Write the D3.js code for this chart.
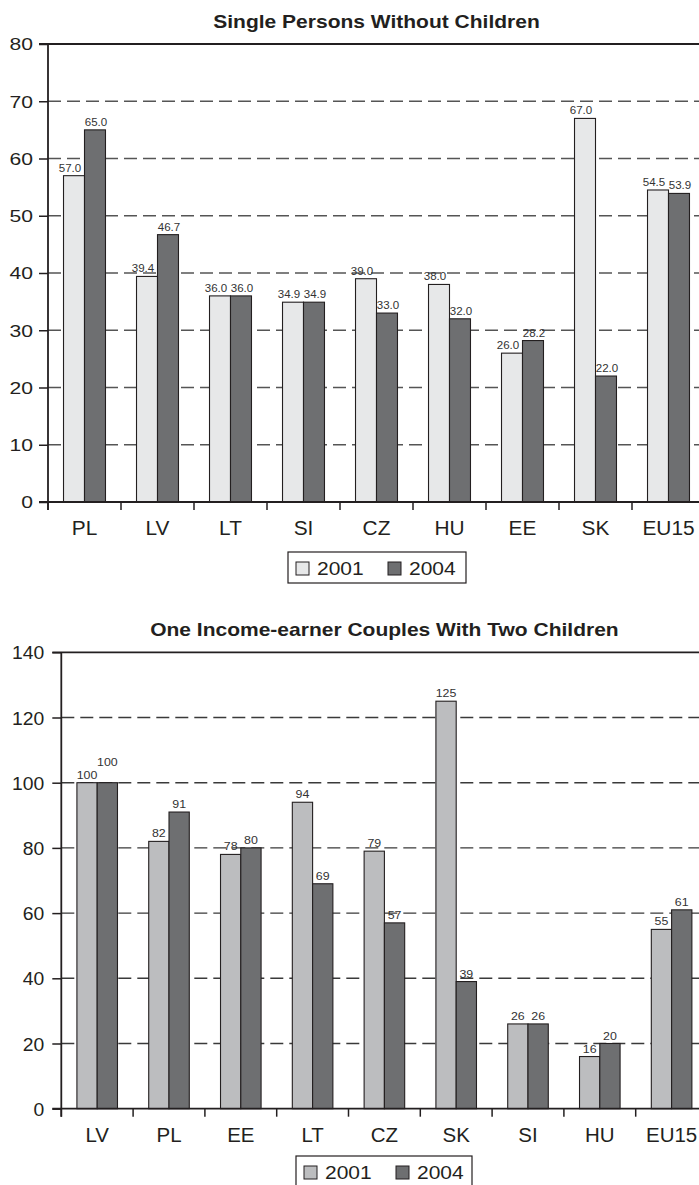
<!DOCTYPE html>
<html>
<head>
<meta charset="utf-8">
<script src="https://cdn.jsdelivr.net/npm/d3@7"></script>
<style>
  html, body { margin: 0; padding: 0; background: #fff; }
  svg { display: block; }
  text { font-family: "Liberation Sans", Arial, Helvetica, sans-serif; fill: #231f20; }
</style>
</head>
<body>
<svg id="chart" width="699" height="1185"></svg>
<script>
// ---- Data: chart 1 ----
const titleA = "Single Persons Without Children";
const categoriesA = ["PL", "LV", "LT", "SI", "CZ", "HU", "EE", "SK", "EU15"];
const valuesA2001 = [57.0, 39.4, 36.0, 34.9, 39.0, 38.0, 26.0, 67.0, 54.5];
const valuesA2004 = [65.0, 46.7, 36.0, 34.9, 33.0, 32.0, 28.2, 22.0, 53.9];
const ticksA = [0, 10, 20, 30, 40, 50, 60, 70, 80];

// ---- Data: chart 2 ----
const titleB = "One Income-earner Couples With Two Children";
const categoriesB = ["LV", "PL", "EE", "LT", "CZ", "SK", "SI", "HU", "EU15"];
const valuesB2001 = [100, 82, 78, 94, 79, 125, 26, 16, 55];
const valuesB2004 = [100, 91, 80, 69, 57, 39, 26, 20, 61];
const ticksB = [0, 20, 40, 60, 80, 100, 120, 140];

const seriesNames = ["2001", "2004"];

const svg = d3.select("#chart");

function stretched(g, x, y, str, size, sx, anchor, weight) {
  return g.append("text")
    .attr("transform", `translate(${x},${y}) scale(${sx},1)`)
    .attr("text-anchor", anchor || "middle")
    .style("font-size", size + "px")
    .style("font-weight", weight || "normal")
    .text(str);
}

function drawChart(cfg) {
  const g = svg.append("g");
  const x = d3.scaleBand().domain(cfg.categories).range([cfg.left, cfg.right]).paddingInner(0).paddingOuter(0);
  const bw = x.bandwidth();
  const gw = bw * cfg.groupRatio;
  const x1 = d3.scaleBand().domain(seriesNames).range([(bw - gw) / 2, (bw + gw) / 2]);
  const y = d3.scaleLinear().domain([0, cfg.ticks[cfg.ticks.length - 1]]).range([cfg.bottom, cfg.top]);
  const yMax = cfg.ticks[cfg.ticks.length - 1];

  // gridlines (dashed) behind bars
  g.append("g").selectAll("line")
    .data(cfg.ticks.filter(t => t !== 0 && t !== yMax))
    .join("line")
    .attr("x1", cfg.left).attr("x2", 699)
    .attr("y1", d => y(d)).attr("y2", d => y(d))
    .attr("stroke", cfg.gridColor).attr("stroke-width", 1.4)
    .attr("stroke-dasharray", "13,6");

  // top solid line
  g.append("line")
    .attr("x1", cfg.left - 9).attr("x2", 699)
    .attr("y1", y(yMax)).attr("y2", y(yMax))
    .attr("stroke", "#231f20").attr("stroke-width", 1.8);

  // bars
  const rows = cfg.categories.map((c, i) => ({ cat: c, vals: [cfg.v2001[i], cfg.v2004[i]] }));
  const grp = g.append("g").selectAll("g").data(rows).join("g")
    .attr("transform", d => `translate(${x(d.cat)},0)`);
  grp.selectAll("rect")
    .data(d => d.vals.map((v, k) => ({ s: seriesNames[k], v })))
    .join("rect")
    .attr("x", d => x1(d.s))
    .attr("width", x1.bandwidth())
    .attr("y", d => y(d.v))
    .attr("height", d => y(0) - y(d.v))
    .attr("fill", d => d.s === "2001" ? cfg.c2001 : cfg.c2004)
    .attr("stroke", "#231f20").attr("stroke-width", 1.1);

  // value labels (raise the second label when the two would collide)
  grp.each(function (d) {
    const gg = d3.select(this);
    const pos = d.vals.map((v, k) => {
      const s = seriesNames[k];
      return { cx: x1(s) + x1.bandwidth() / 2 + (k === 0 ? cfg.labelDx0 : cfg.labelDx1), cy: y(v) - 4 };
    });
    const labels = d.vals.map((v, k) =>
      stretched(gg, pos[k].cx, pos[k].cy, cfg.fmt(v), cfg.valSize, 1.05, "middle").style("fill", "#333"));
    const w0 = labels[0].node().getComputedTextLength() * 1.05;
    const w1 = labels[1].node().getComputedTextLength() * 1.05;
    const hGap = (pos[1].cx - w1 / 2) - (pos[0].cx + w0 / 2);
    if (hGap < 2 && Math.abs(pos[0].cy - pos[1].cy) < cfg.valSize) {
      labels[1].attr("transform", `translate(${pos[1].cx},${Math.min(pos[0].cy, pos[1].cy) - cfg.valSize - 1}) scale(1.05,1)`);
    }
  });

  // y axis
  const ya = d3.axisLeft(y).tickValues(cfg.ticks).tickSize(9).tickPadding(cfg.tickPad).tickFormat(d3.format("d"));
  const yg = g.append("g").attr("transform", `translate(${cfg.left},0)`).call(ya);
  yg.select(".domain").remove();
  yg.selectAll(".tick line").attr("stroke", "#231f20").attr("stroke-width", 1.5);
  yg.selectAll(".tick text")
    .attr("x", null).attr("dy", null)
    .attr("transform", `translate(${-9 - cfg.tickPad},${cfg.tickSize * 0.36}) scale(${cfg.tickSx},1)`)
    .attr("fill", "#231f20")
    .style("font-size", cfg.tickSize + "px")
    .style("font-family", '"Liberation Sans", Arial, sans-serif');
  g.append("line")
    .attr("x1", cfg.left).attr("x2", cfg.left)
    .attr("y1", cfg.top).attr("y2", cfg.bottom + 8)
    .attr("stroke", "#231f20").attr("stroke-width", 1.8);

  // x axis line
  g.append("line")
    .attr("x1", cfg.left - 9).attr("x2", 699)
    .attr("y1", cfg.bottom).attr("y2", cfg.bottom)
    .attr("stroke", "#231f20").attr("stroke-width", 1.8);
  // boundary ticks
  g.append("g").selectAll("line").data(cfg.categories).join("line")
    .attr("x1", d => x(d)).attr("x2", d => x(d))
    .attr("y1", cfg.bottom).attr("y2", cfg.bottom + 8)
    .attr("stroke", "#231f20").attr("stroke-width", 1.5);
  // category labels
  const xa = d3.axisBottom(x).tickSize(0).tickPadding(0);
  const xg = g.append("g").attr("transform", `translate(0,${cfg.bottom})`).call(xa);
  xg.select(".domain").remove();
  xg.selectAll(".tick text")
    .attr("y", null).attr("dy", null)
    .attr("transform", `translate(0,33) scale(${cfg.catSx},1)`)
    .attr("fill", "#231f20")
    .style("font-size", cfg.catSize + "px")
    .style("font-family", '"Liberation Sans", Arial, sans-serif');

  // title
  stretched(g, (cfg.left + cfg.right) / 2, cfg.titleY, cfg.title, 18.6, 1.13, "middle", "bold");

  // legend
  const L = cfg.legend;
  const lg = g.append("g").attr("transform", `translate(${L.x},${L.y})`);
  lg.append("rect").attr("width", L.w).attr("height", L.h)
    .attr("fill", "#fff").attr("stroke", "#231f20").attr("stroke-width", 1.2);
  seriesNames.forEach((s, k) => {
    const ox = k === 0 ? 8 : 100;
    lg.append("rect").attr("x", ox).attr("y", 10).attr("width", 13).attr("height", 13)
      .attr("fill", s === "2001" ? cfg.c2001 : cfg.c2004)
      .attr("stroke", "#231f20").attr("stroke-width", 1);
    stretched(lg, ox + 21, 23, s, 18.6, 1.13, "start");
  });
}

drawChart({
  title: titleA, categories: categoriesA, v2001: valuesA2001, v2004: valuesA2004, ticks: ticksA,
  left: 48, right: 705, top: 44, bottom: 502, groupRatio: 0.575,
  c2001: "#e7e8e9", c2004: "#6e6f71", gridColor: "#555",
  fmt: d3.format(".1f"), valSize: 11, labelDx0: -4, labelDx1: 1,
  tickSize: 16.5, tickSx: 1.28, tickPad: 6, catSize: 19.5, catSx: 1.07,
  titleY: 28, legend: { x: 288, y: 552, w: 178, h: 31 }
});

drawChart({
  title: titleB, categories: categoriesB, v2001: valuesB2001, v2004: valuesB2004, ticks: ticksB,
  left: 61.3, right: 707.5, top: 652.3, bottom: 1108.7, groupRatio: 0.565,
  c2001: "#bcbdbf", c2004: "#6e6f71", gridColor: "#3a3a3a",
  fmt: d3.format("d"), valSize: 11.8, labelDx0: 0, labelDx1: 0,
  tickSize: 18.6, tickSx: 1.04, tickPad: 8, catSize: 19.5, catSx: 1.05,
  titleY: 636, legend: { x: 296, y: 1156, w: 176, h: 33 }
});
</script>
</body>
</html>
